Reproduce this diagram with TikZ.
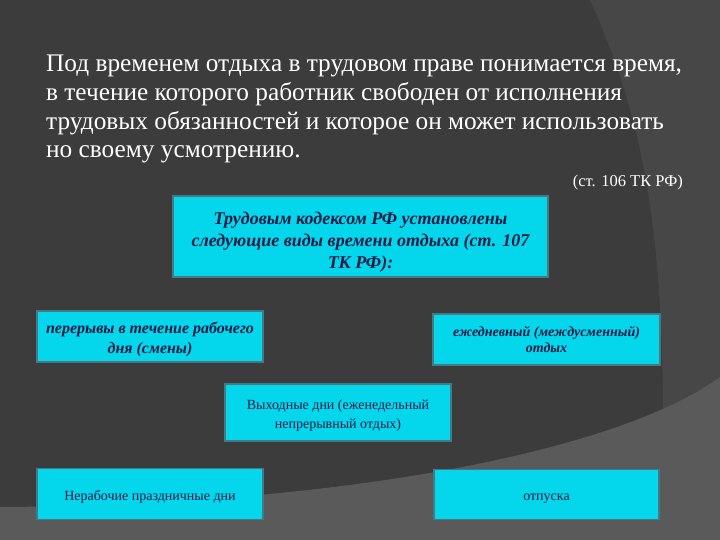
\documentclass[tikz,border=0pt]{standalone}
\usepackage{fontspec}
\setmainfont{Liberation Serif}
\usetikzlibrary{positioning}
\definecolor{slidebg}{RGB}{60,60,60}
\definecolor{slideshade}{RGB}{71,71,71}
\definecolor{slidefloor}{RGB}{90,90,90}
\definecolor{vidcyan}{RGB}{4,214,236}
\definecolor{videdge}{RGB}{66,122,134}
\definecolor{vidink}{RGB}{12,28,70}

\tikzset{
  vidbox/.style={draw=videdge, line width=1.2pt, fill=vidcyan, text=vidink,
    align=center, inner sep=0pt},
  vidhead/.style={vidbox, font=\fontsize{18}{22}\selectfont\bfseries\itshape},
  vidbold/.style={vidbox, font=\fontsize{16}{20}\selectfont\bfseries\itshape},
  vidplain/.style={vidbox, font=\fontsize{14}{19}\selectfont},
}

\begin{document}
\begin{tikzpicture}[x=1pt, y=-1pt]
        % Background
        \useasboundingbox (0,0) rectangle (720,540);
        \fill[slidebg] (0,0) rectangle (720,540);
        \fill[slideshade] (590,0) .. controls (640,110) and (663,220) .. (663,420) -- (720,420) -- (720,0) -- cycle;
        \fill[slidefloor] (0,507) .. controls (350,505) and (620,450) .. (720,377) -- (720,540) -- (0,540) -- cycle;

        % Definition
        \node[anchor=north west, inner sep=0pt, align=left, text=white,
          font=\fontsize{25.3}{28.7}\selectfont] (defn) at (46,55)
          {Под временем отдыха в трудовом праве понимается время,\\
           в течение которого работник свободен от исполнения\\
           трудовых обязанностей и которое он может использовать\\
           но своему усмотрению.};
        \node[anchor=base east, inner sep=0pt, text=white,
          font=\fontsize{16.5}{18}\selectfont] (src) at (683,187) {(ст. 106 ТК РФ)};

        % Kinds of rest time
        \node[vidhead, minimum width=375pt, minimum height=81pt] (head) at (360.5,236.5)
          {\rule{0pt}{23pt}Трудовым кодексом РФ установлены\\ следующие виды времени отдыха (ст. 107\\ ТК РФ):};
        \node[vidbold, minimum width=226pt, minimum height=51pt] (breaks) at (150,336.5)
          {\rule{0pt}{18pt}перерывы в течение рабочего\\ дня (смены)};
        \node[vidbold, font=\fontsize{14}{16}\selectfont\bfseries\itshape,
          minimum width=227pt, minimum height=51pt] (daily) at (546.5,339.5)
          {ежедневный (междусменный)\\ отдых};
        \node[vidplain, minimum width=226pt, minimum height=57pt] (weekend) at (338,412.5)
          {\rule{0pt}{15pt}Выходные дни (еженедельный\\ непрерывный отдых)};
        \node[vidplain, minimum width=226pt, minimum height=51pt] (holiday) at (150,494)
          {\rule{0pt}{15pt}Нерабочие праздничные дни};
        \node[vidplain, minimum width=225pt, minimum height=50pt] (leave) at (546.5,494.5)
          {\rule{0pt}{15pt}отпуска};
      \end{tikzpicture}
\end{document}
